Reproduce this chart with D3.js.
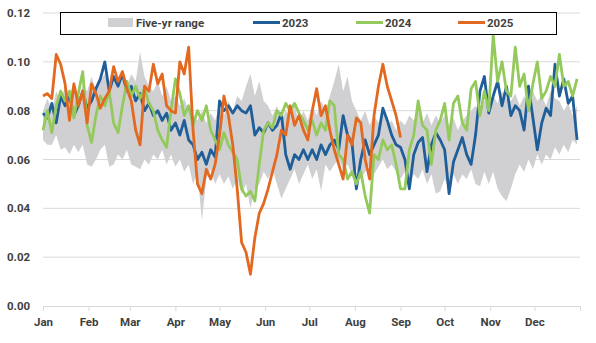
<!DOCTYPE html>
<html>
<head>
<meta charset="utf-8">
<script src="https://cdn.jsdelivr.net/npm/d3@7"></script>
<style>
  html, body { margin: 0; padding: 0; background: #fff; }
  text { font-family: Roboto, "Liberation Sans", sans-serif; }
</style>
</head>
<body>
<div id="chart"></div>
<script>
// one reading every 3 days, starting Jan 1
const stepDays = 3;
const legendLabels = ['Five-yr range', '2023', '2024', '2025'];
const yTicks = [0, 0.02, 0.04, 0.06, 0.08, 0.10, 0.12];

const rangeLow = [
  0.068, 0.066, 0.066, 0.070, 0.064, 0.065, 0.062, 0.066, 0.063, 0.066,
  0.058, 0.057, 0.060, 0.064, 0.066, 0.057, 0.058, 0.062, 0.060, 0.064,
  0.058, 0.057, 0.056, 0.060, 0.058, 0.062, 0.060, 0.064, 0.058, 0.062,
  0.057, 0.060, 0.055, 0.058, 0.050, 0.055, 0.035, 0.052, 0.056, 0.050,
  0.054, 0.050, 0.053, 0.048, 0.052, 0.046, 0.050, 0.040, 0.048, 0.050,
  0.055, 0.052, 0.056, 0.050, 0.044, 0.048, 0.052, 0.056, 0.050, 0.054,
  0.058, 0.052, 0.056, 0.047, 0.058, 0.055, 0.058, 0.060, 0.056, 0.058,
  0.054, 0.056, 0.052, 0.055, 0.058, 0.054, 0.057, 0.060, 0.056, 0.058,
  0.055, 0.052, 0.055, 0.050, 0.054, 0.052, 0.056, 0.050, 0.054, 0.046,
  0.047, 0.052, 0.048, 0.054, 0.050, 0.054, 0.052, 0.056, 0.050, 0.049,
  0.055, 0.050, 0.055, 0.048, 0.045, 0.043, 0.048, 0.054, 0.058, 0.055,
  0.060, 0.056, 0.062, 0.058, 0.062, 0.060, 0.065, 0.062, 0.066, 0.063,
  0.068, 0.066
];
const rangeHigh = [
  0.080, 0.085, 0.080, 0.088, 0.084, 0.090, 0.086, 0.092, 0.084, 0.090,
  0.088, 0.094, 0.088, 0.092, 0.095, 0.090, 0.094, 0.089, 0.093, 0.090,
  0.095, 0.092, 0.104, 0.094, 0.090, 0.088, 0.092, 0.086, 0.090, 0.084,
  0.086, 0.082, 0.085, 0.080, 0.078, 0.076, 0.080, 0.075, 0.079, 0.076,
  0.082, 0.078, 0.084, 0.080, 0.086, 0.084, 0.090, 0.095, 0.086, 0.092,
  0.084, 0.082, 0.078, 0.082, 0.076, 0.080, 0.078, 0.082, 0.075, 0.080,
  0.076, 0.082, 0.078, 0.084, 0.080, 0.086, 0.092, 0.099, 0.088, 0.094,
  0.084, 0.080, 0.076, 0.080, 0.074, 0.078, 0.075, 0.080, 0.074, 0.076,
  0.072, 0.076, 0.074, 0.078, 0.076, 0.080, 0.075, 0.079, 0.074, 0.078,
  0.075, 0.078, 0.074, 0.077, 0.072, 0.076, 0.078, 0.080, 0.082, 0.079,
  0.084, 0.082, 0.086, 0.083, 0.088, 0.085, 0.084, 0.087, 0.082, 0.086,
  0.083, 0.088, 0.084, 0.086, 0.082, 0.088, 0.085, 0.084, 0.080, 0.083,
  0.078, 0.082
];
const values2023 = [
  0.079, 0.077, 0.083, 0.075, 0.086, 0.082, 0.086, 0.078, 0.082, 0.088,
  0.081, 0.084, 0.089, 0.093, 0.100, 0.088, 0.094, 0.090, 0.095, 0.088,
  0.090, 0.084, 0.087, 0.080, 0.083, 0.078, 0.080, 0.076, 0.079, 0.072,
  0.075, 0.070, 0.076, 0.068, 0.066, 0.060, 0.063, 0.058, 0.064, 0.061,
  0.084, 0.080, 0.082, 0.079, 0.082, 0.080, 0.079, 0.082, 0.070, 0.073,
  0.071, 0.075, 0.072, 0.074, 0.079, 0.062, 0.056, 0.062, 0.060, 0.064,
  0.060, 0.064, 0.060, 0.066, 0.062, 0.066, 0.068, 0.064, 0.078, 0.070,
  0.067, 0.048, 0.060, 0.068, 0.062, 0.066, 0.070, 0.081, 0.076, 0.070,
  0.066, 0.065, 0.060, 0.048, 0.062, 0.067, 0.069, 0.055, 0.066, 0.071,
  0.068, 0.064, 0.046, 0.059, 0.064, 0.069, 0.062, 0.058, 0.070, 0.088,
  0.094, 0.079, 0.086, 0.092, 0.082, 0.090, 0.078, 0.082, 0.080, 0.072,
  0.090, 0.077, 0.064, 0.075, 0.081, 0.078, 0.099, 0.086, 0.093, 0.083,
  0.086, 0.068
];
const values2024 = [
  0.072, 0.080, 0.071, 0.082, 0.088, 0.084, 0.088, 0.077, 0.087, 0.096,
  0.074, 0.067, 0.078, 0.086, 0.082, 0.088, 0.075, 0.071, 0.082, 0.092,
  0.086, 0.090, 0.085, 0.089, 0.083, 0.080, 0.072, 0.068, 0.065, 0.080,
  0.093, 0.087, 0.078, 0.082, 0.074, 0.080, 0.076, 0.082, 0.072, 0.068,
  0.064, 0.071, 0.066, 0.063, 0.060, 0.048, 0.045, 0.047, 0.043, 0.058,
  0.072, 0.075, 0.073, 0.080, 0.078, 0.083, 0.080, 0.083, 0.079, 0.076,
  0.072, 0.076, 0.070, 0.075, 0.072, 0.084, 0.082, 0.062, 0.060, 0.052,
  0.055, 0.050, 0.055, 0.045, 0.038, 0.062, 0.060, 0.068, 0.064, 0.066,
  0.058, 0.048, 0.048, 0.064, 0.070, 0.084, 0.074, 0.072, 0.058, 0.072,
  0.076, 0.083, 0.068, 0.083, 0.086, 0.075, 0.072, 0.089, 0.092, 0.078,
  0.088, 0.080, 0.111, 0.092, 0.100, 0.088, 0.086, 0.106, 0.090, 0.095,
  0.080, 0.091, 0.100, 0.085, 0.088, 0.094, 0.090, 0.103, 0.090, 0.092,
  0.086, 0.093
];
const values2025 = [
  0.086, 0.087, 0.085, 0.103, 0.099, 0.091, 0.076, 0.091, 0.082, 0.088,
  0.075, 0.091, 0.087, 0.081, 0.085, 0.088, 0.098, 0.092, 0.096, 0.089,
  0.084, 0.072, 0.066, 0.090, 0.088, 0.099, 0.091, 0.095, 0.082, 0.080,
  0.079, 0.100, 0.095, 0.106, 0.072, 0.050, 0.046, 0.056, 0.052, 0.058,
  0.070, 0.086, 0.078, 0.066, 0.048, 0.026, 0.022, 0.013, 0.028, 0.038,
  0.042, 0.048, 0.055, 0.062, 0.072, 0.070, 0.082, 0.074, 0.078, 0.072,
  0.068, 0.080, 0.089, 0.078, 0.082, 0.072, 0.064, 0.058, 0.052, 0.070,
  0.066, 0.077, 0.075, 0.060, 0.052, 0.078, 0.090, 0.099, 0.090, 0.084,
  0.078, 0.069
];

const seriesList = [
  { name: '2023', values: values2023, color: '#1f5e99' },
  { name: '2024', values: values2024, color: '#94c95c' },
  { name: '2025', values: values2025, color: '#e2691f' }
];
const rangeColor = '#d0d0d2';

const width = 596;
const height = 343;
const margin = { top: 13, right: 16, bottom: 37, left: 43 };

const svg = d3.select('#chart').append('svg')
  .attr('width', width)
  .attr('height', height);

const start = new Date(2023, 0, 1);
const dayOf = i => d3.timeDay.offset(start, i * stepDays);

const x = d3.scaleTime()
  .domain([start, new Date(2024, 0, 1)])
  .range([margin.left, width - margin.right]);
const y = d3.scaleLinear()
  .domain([0, 0.12])
  .range([height - margin.bottom, margin.top]);

// gridlines
svg.append('g')
  .selectAll('line')
  .data(yTicks.filter(d => d > 0))
  .enter()
  .append('line')
  .attr('x1', margin.left)
  .attr('x2', width - margin.right)
  .attr('y1', d => y(d))
  .attr('y2', d => y(d))
  .attr('stroke', '#d9d9d9')
  .attr('stroke-width', 1);

// y labels
svg.append('g')
  .selectAll('text')
  .data(yTicks)
  .enter()
  .append('text')
  .attr('x', 7)
  .attr('y', d => y(d))
  .attr('dy', '0.35em')
  .attr('font-size', 11.5)
  .attr('font-weight', 'bold')
  .attr('fill', '#3f3f3f')
  .text(d => d.toFixed(2));

// five-yr range band
const area = d3.area()
  .x((d, i) => x(dayOf(i)))
  .y0((d, i) => y(rangeLow[i]))
  .y1(d => y(d));
svg.append('path')
  .datum(rangeHigh)
  .attr('d', area)
  .attr('fill', rangeColor);

const line = d3.line()
  .x((d, i) => x(dayOf(i)))
  .y(d => y(d));

svg.append('g')
  .selectAll('path')
  .data(seriesList)
  .enter()
  .append('path')
  .attr('d', d => line(d.values))
  .attr('fill', 'none')
  .attr('stroke', d => d.color)
  .attr('stroke-width', 2.8)
  .attr('stroke-linejoin', 'round');

// x axis
const xAxis = d3.axisBottom(x)
  .ticks(d3.timeMonth.every(1))
  .tickSize(5)
  .tickFormat(d => (d.getFullYear() === 2024 ? '' : d3.timeFormat('%b')(d)));

const gx = svg.append('g')
  .attr('transform', `translate(0,${y(0)})`)
  .call(xAxis);
gx.select('.domain').attr('stroke', '#d9d9d9');
gx.selectAll('.tick line').attr('stroke', '#d9d9d9');
gx.selectAll('.tick text')
  .attr('font-size', 11.5)
  .attr('font-weight', 'bold')
  .attr('fill', '#3f3f3f')
  .attr('font-family', 'Roboto, sans-serif')
  .attr('dy', '1.05em');

// legend
const legend = svg.append('g');
legend.append('rect')
  .attr('x', 60.5)
  .attr('y', 12.5)
  .attr('width', 496)
  .attr('height', 22)
  .attr('fill', '#fff')
  .attr('stroke', '#000')
  .attr('stroke-width', 1);

const legendX = [108, 253, 356, 458];
legendLabels.forEach((label, i) => {
  const lx = legendX[i];
  if (i === 0) {
    legend.append('rect')
      .attr('x', lx).attr('y', 18)
      .attr('width', 25).attr('height', 9)
      .attr('fill', rangeColor);
  } else {
    legend.append('line')
      .attr('x1', lx).attr('x2', lx + 27)
      .attr('y1', 22.5).attr('y2', 22.5)
      .attr('stroke', seriesList[i - 1].color)
      .attr('stroke-width', 3);
  }
  legend.append('text')
    .attr('x', lx + (i === 0 ? 28 : 29))
    .attr('y', 23)
    .attr('dy', '0.35em')
    .attr('font-size', 11.5)
    .attr('font-weight', 'bold')
    .attr('fill', '#3f3f3f')
    .text(label);
});
</script>
</body>
</html>
